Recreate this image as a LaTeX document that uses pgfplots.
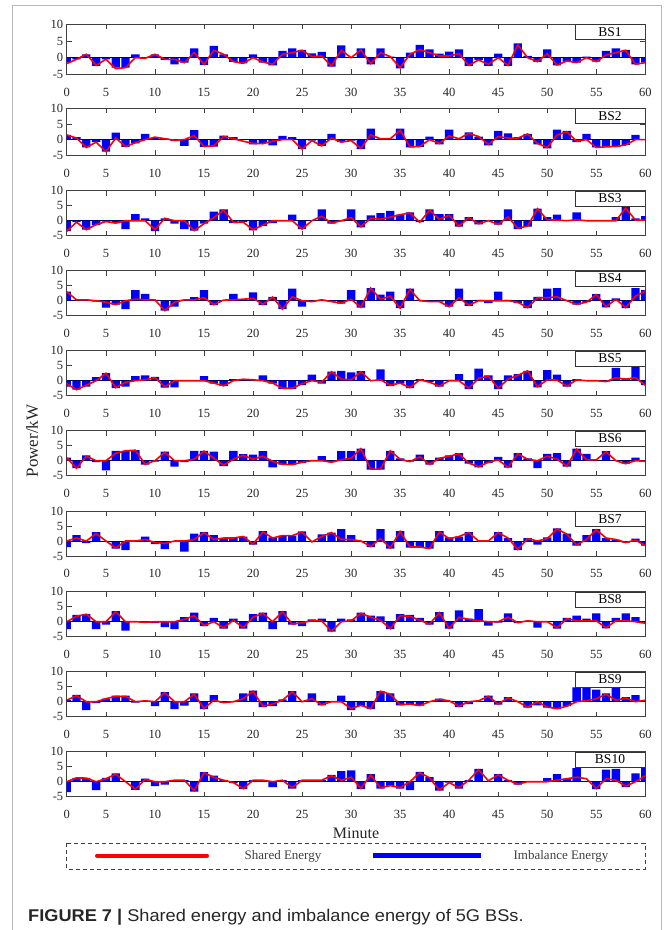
\documentclass[border=0pt]{standalone}
\usepackage{fontspec}
\setmainfont{Liberation Serif}
\newfontfamily\capfont{Liberation Sans}
\usepackage{pgfplots}
\pgfplotsset{compat=1.18}
\usepackage{pgfplotstable}

\pgfplotstableread{
x b s
1 -1.5 -1.8
2 -0.5 -0.5
3 1 1
4 -2.5 -2.3
5 -0.5 -0.5
6 -3 -3.3
7 -3 -3
8 1 0
9 0 -0.2
10 1 1
11 -0.7 -0.5
12 -2 -0.5
13 -1.5 -1.5
14 2.8 1.5
15 -2.2 -2
16 3.5 2.2
17 1 1
18 -1.3 -1.2
19 -1.7 -1.7
20 1 0
21 -1.5 -1.3
22 -2.3 -2
23 2 1
24 2.8 1.5
25 2.3 2.2
26 1.3 0.3
27 1.7 0.5
28 -2.7 -2.5
29 3.7 2.2
30 0 0
31 2.8 2.3
32 -2 -1.8
33 2.8 1.5
34 0.3 0.3
35 -3.2 -3
36 1.5 1
37 3.8 2.4
38 2.5 1.5
39 1.2 0.5
40 1.8 0.5
41 2.5 1.2
42 -2.5 -2.3
43 -0.7 -0.7
44 -2.5 -2
45 1.2 0
46 -2.5 -2.3
47 4.3 3.8
48 0.5 0
49 -1.3 -1.2
50 2.5 1.2
51 -2.3 -2.2
52 -1.2 -1
53 -1.5 -1.5
54 0.3 0
55 -1.2 -1.2
56 2 0.8
57 2.8 1.5
58 2.3 2.2
59 -2 -2
60 -1.5 -1.5
}\bsA

\pgfplotstableread{
x b s
1 1.5 1.5
2 0.8 0.5
3 -2.5 -2.5
4 -0.8 -0.8
5 -3.8 -3.8
6 2.2 0.5
7 -2.3 -2.2
8 -1.2 -1
9 1.8 0
10 0.5 0.8
11 0.3 0.3
12 -0.5 -0.2
13 -2 0
14 3 1.3
15 -2.3 -2.2
16 -2.2 -2
17 1.3 1
18 0.8 0.3
19 0 -0.5
20 -1.5 -1.2
21 -1 -1.3
22 -1.8 -0.5
23 1.2 0
24 0.8 0
25 -3 -3
26 -0.3 -0.3
27 -2 -2
28 1.8 0.5
29 -0.8 -0.8
30 -0.3 -0.3
31 -3 -2.8
32 3.5 1.5
33 0.3 0.3
34 0.3 0.3
35 3.5 3
36 -2.5 -2.3
37 -2.3 -2.2
38 1 0
39 -1.5 -1.2
40 3.2 1.2
41 0.3 0.3
42 2.3 2
43 1 1
44 -1.8 -1.5
45 2.8 1
46 2 0.5
47 0.8 0.5
48 1.8 1.8
49 -1.5 -1.2
50 -2.8 -2.5
51 3.2 1.5
52 2.8 2.5
53 -0.8 -0.5
54 1.8 0
55 -2.5 -2.5
56 -2.3 -2.3
57 -2.2 -2.2
58 -1.7 -1.7
59 1.5 0
60 0 0
}\bsB

\pgfplotstableread{
x b s
1 -3.5 -3.5
2 -0.5 -0.5
3 -3 -3
4 -1.5 -1.3
5 -0.3 -0.3
6 -0.8 -0.8
7 -2.8 0
8 2.2 0
9 0.8 0
10 -3.5 -3
11 0.8 0.8
12 -1 0
13 -2.8 0
14 -3.3 -3.3
15 -1 -1
16 3 1
17 3.8 3.5
18 -0.8 -0.5
19 -0.5 -0.5
20 -3.2 -3
21 -1.7 -1.5
22 -0.8 0
23 0 0
24 2 0
25 -2.8 -2.8
26 0.2 0
27 3.8 1.5
28 -1 -0.8
29 -0.2 0
30 3.8 1
31 -2.2 -2
32 1.8 0.8
33 2.5 0.5
34 3.3 1.2
35 2 2
36 2.8 2.6
37 -0.5 -0.5
38 3.8 3.5
39 2.2 0.5
40 2.2 1.8
41 -2 -1.8
42 1.2 1
43 -1.2 -1
44 0.2 0
45 -1.3 -1.2
46 3.8 1.2
47 -2.8 -2.5
48 -2 -1.8
49 4 4
50 1.2 0.3
51 2 0.2
52 0.2 0
53 2.8 0.3
54 0 0
55 0 0
56 0 0
57 1.2 0
58 4.5 4.2
59 0.8 0.2
60 1.5 0.2
}\bsC

\pgfplotstableread{
x b s
1 3 3
2 0.3 0.3
3 0.3 0.3
4 -0.3 0
5 -2.3 -0.5
6 -1.3 -1.3
7 -2.8 0
8 3.5 0.5
9 2.3 0.3
10 0.3 0.3
11 -3.3 -3.3
12 -2 -0.5
13 0.3 0.3
14 1.2 0.3
15 3.5 1
16 -1.5 -1.3
17 0.2 0.2
18 2.3 0.3
19 0.5 0.5
20 2.8 0.8
21 -1.5 -1.2
22 1.3 1.2
23 -2.8 -2.8
24 4 1.3
25 -2 0
26 -0.3 -0.3
27 0.3 0.3
28 -0.3 -0.3
29 -1 -0.8
30 3.5 0.5
31 -2.3 -2.2
32 4.2 4.2
33 2 0.5
34 3 1.5
35 -2.5 -2.5
36 4 3.8
37 0.3 0
38 -0.3 -0.3
39 -0.3 -0.3
40 -2 -2
41 4 1
42 -1.7 -1.5
43 0.3 0
44 -0.8 0
45 3 0
46 0.3 0
47 -0.8 -0.5
48 -2.5 -2.3
49 1.3 1
50 4 1
51 4.2 1.3
52 0.3 0
53 -1.3 -1.2
54 -0.5 -0.5
55 2.2 2
56 -2.2 -2
57 0.8 0.5
58 -2.5 -2.3
59 4.2 1.5
60 3.5 3.2
}\bsD

\pgfplotstableread{
x b s
1 -2 -1
2 -3 -3
3 -2 -1.5
4 1.2 0
5 2.5 2.5
6 -2.5 -2.3
7 -2 -0.5
8 1.5 0
9 1.8 0.3
10 1.3 1
11 -2.3 -2
12 -2.2 0
13 0 0
14 0 0
15 1.5 0
16 -1 -0.8
17 -1.7 -1.7
18 0.5 0
19 0.5 0.5
20 0.3 0.3
21 1.8 0
22 -1 -0.8
23 -2.8 -2.5
24 -2.8 -2.5
25 -1.5 -1
26 2 0
27 -1 -0.5
28 3 3
29 3.3 0.5
30 2.8 0.3
31 3.2 3
32 0 0
33 3.8 0.3
34 -1.8 -1.5
35 -1 -0.8
36 -2.5 -2.3
37 0.5 0.3
38 -0.5 -0.5
39 -2 -1.8
40 0.3 0
41 2.2 0
42 -2.8 -2.5
43 4 0.8
44 1.8 1.5
45 -2.8 -2.5
46 1.8 0.5
47 2.2 1.8
48 3.3 3.3
49 -2.2 -2
50 3.5 0.3
51 2 0.2
52 -2 -1.8
53 0.5 0.3
54 0 0
55 0 0
56 -0.3 -0.3
57 4.3 1
58 0.8 0.5
59 4.5 1
60 -1.5 -1.5
}\bsE

\pgfplotstableread{
x b s
1 1 1
2 -2.5 -2.5
3 1.8 1.5
4 -0.5 0
5 -3.2 0
6 3.3 2.5
7 3.3 3.3
8 3.5 3.5
9 -1.3 -1.2
10 -0.3 0
11 3 2.8
12 -2 0
13 -0.5 0
14 3.3 0.5
15 3.3 3.2
16 3 0.8
17 -1.8 -1.5
18 3.3 0.5
19 2.2 1.8
20 2 0.5
21 3.2 1.5
22 -2.2 -0.2
23 -1.3 -1.2
24 -1.3 -1.3
25 -0.8 -0.5
26 0 0
27 1.5 0
28 -0.5 -0.5
29 3.2 0.3
30 3.2 0.8
31 4 4
32 -3 -2.8
33 -3 -2.8
34 3.3 3.3
35 0.8 0.5
36 -0.3 -0.3
37 2 1.3
38 -1.3 -1.2
39 1 0.8
40 1.8 1.5
41 2.5 2.3
42 -1 -0.8
43 -2.2 -2
44 -0.8 -0.5
45 1.3 0.3
46 -2.3 -2.2
47 2.5 2.3
48 0.8 0.5
49 -2.5 0
50 2.3 1.5
51 2.5 0.5
52 -2 -1.8
53 4 3.8
54 2.3 0.3
55 0 0.3
56 3.2 3
57 0 0
58 -1 -1
59 1 0
60 -0.2 -0.2
}\bsF

\pgfplotstableread{
x b s
1 -2 0
2 2 1
3 -0.7 0
4 3 2.5
5 -0.3 0
6 -2.5 -2.3
7 -3 0
8 0 0
9 1.5 0.5
10 -1 -0.5
11 -2.7 -0.8
12 0 0
13 -3.5 0
14 2.5 0.5
15 3 2.8
16 2 0.5
17 1 1
18 1 1
19 1.5 1.5
20 -1.2 -1
21 3.3 3
22 1.2 1
23 1.8 1.8
24 1.8 1.8
25 3.2 3
26 -0.3 -0.3
27 2.2 1.5
28 2.8 2.8
29 4 0.5
30 2 0.5
31 0 0
32 -2 -1.8
33 4 0.8
34 -2.5 -2.3
35 3.3 3.2
36 -2.2 -2
37 -2.2 -2
38 -2.5 -2.5
39 3.3 3
40 1.2 0.8
41 1.5 1.5
42 3 2.8
43 0 0
44 0 0
45 3 2.8
46 1 1
47 -3 -2.8
48 1 0.8
49 -1.2 0
50 1.2 0.8
51 4.2 4
52 2.5 2.3
53 -1.5 -1.3
54 2 0.5
55 4 3.8
56 1 1
57 0.5 0.5
58 -0.5 -0.5
59 0.8 0.3
60 -1.5 -1.5
}\bsG

\pgfplotstableread{
x b s
1 -2.5 0
2 2.3 1.8
3 2.5 2.5
4 -2.5 0
5 -1 0
6 3.5 3.3
7 -3 0
8 0 0
9 0 -0.2
10 -0.5 0
11 -1.8 0
12 -2.5 0
13 1.5 0.8
14 3 2
15 -1.5 -1.3
16 1.3 0
17 -2.3 -2
18 1 0.5
19 -2.3 -2
20 2.5 1.5
21 3 2.8
22 -2.5 0
23 3.5 3.3
24 -1 -0.8
25 -1.5 -0.3
26 0.8 0.3
27 1 0.3
28 -3.3 -3.2
29 1 0
30 0.8 0.3
31 3 2.8
32 2 1.5
33 1.8 0.5
34 -2.5 -2.3
35 2.5 2
36 2.3 1.8
37 1.3 0.5
38 -1 -0.8
39 3.2 3
40 -2.3 -2.2
41 3.8 1.5
42 1 0.8
43 4.2 0.3
44 -1.3 0
45 -0.3 0
46 2.8 1.5
47 -0.5 -0.3
48 0.3 0.3
49 -2 0
50 0 0
51 -2.3 -2
52 1.3 1
53 2 0.3
54 1 0.3
55 2.8 0.3
56 -2.2 -2
57 1.3 0.3
58 2.8 0.3
59 1.5 0
60 -0.5 -0.5
}\bsH

\pgfplotstableread{
x b s
1 0.5 0.5
2 2.3 2
3 -2.8 0
4 -0.5 0
5 1 1
6 2 1.8
7 2 1.8
8 -0.3 0
9 0.3 0.3
10 -1.5 0
11 3.2 3
12 -2.5 0
13 -1.3 0
14 2.8 2.5
15 -2.5 -2.3
16 2.2 0.5
17 -0.3 -0.3
18 0 0
19 2.8 1
20 3.7 3.5
21 -1.8 -1.5
22 -1.5 -0.8
23 0.8 0.5
24 3.5 3.3
25 0 0
26 2.8 1
27 -1.2 -1
28 0 0
29 2 0
30 -2.8 -2.3
31 -1.5 -1.2
32 -2.5 -2.3
33 3.5 3.5
34 2.8 2.5
35 -1.2 -1
36 -0.8 -0.8
37 -1.3 -1.3
38 0.2 0
39 1 0.8
40 0.3 0.3
41 -1.8 -1.5
42 -0.8 0
43 0.3 0.3
44 2 1.8
45 -1 -0.8
46 1.5 1.3
47 0 0
48 -2 -1.8
49 -1.2 0
50 -2 -1.8
51 -2.5 -2.3
52 -1.5 -1.5
53 4.8 0
54 4.8 0.3
55 4 1
56 2.8 2.5
57 4.5 0.5
58 1.5 1.2
59 2.2 0
60 0.5 0.5
}\bsI

\pgfplotstableread{
x b s
1 -3.5 0
2 1.3 1.3
3 1.3 1.2
4 -2.8 0
5 1.3 1
6 2.8 2.5
7 0 0
8 -2.7 -2.5
9 1 0.8
10 -1.5 0
11 -1 0
12 0.5 0.5
13 0.5 0.5
14 -3.3 -3
15 3.2 3
16 2 1.5
17 0.5 0.5
18 -0.5 -0.3
19 -2.5 -2.3
20 0.5 0.5
21 0.5 0.5
22 -1.8 0
23 0.5 0.5
24 -2.3 -2
25 0.5 0.5
26 0.5 0.5
27 0.5 0.5
28 2.3 2
29 3.5 0.5
30 3.8 1.5
31 -2.5 -2.2
32 2.5 2.2
33 -2.3 -2
34 -1.5 -1.3
35 -2.3 -2
36 -2.8 0
37 3.3 3
38 1.5 1.3
39 -3 -2.8
40 -0.3 -0.3
41 -2.3 -2
42 0.5 0.5
43 4.3 4
44 0.3 0.3
45 2.5 2.3
46 0.5 0.5
47 -1 -0.8
48 0 0
49 0 0
50 1.2 0
51 2.5 0.5
52 1 1
53 4.5 1.5
54 0 1
55 -2.5 -2.3
56 4 1
57 4.3 0.5
58 -1.8 -1.5
59 2.8 0
60 5 2
}\bsJ

\pgfplotsset{
  bsstyle/.style={
    anchor=north west,
    width=578.6pt, scale only axis,
    xmin=1, xmax=60, ymin=-5, ymax=10,
    xtick={1,5,10,15,20,25,30,35,40,45,50,55,60},
    xticklabels={0,5,10,15,20,25,30,35,40,45,50,55,60},
    ytick={-5,0,5,10},
    tick align=inside, major tick length=5pt,
    axis line style={black!75, line width=0.7pt},
    every tick/.style={black!75, line width=0.6pt},
    tick label style={font=\fontsize{12.5}{13}\selectfont, text=black!85},
    /pgf/number format/assume math mode=true,
    xticklabel style={yshift=-10pt},
  }
}

\newcommand{\bsaxis}[4]{%
\begin{axis}[bsstyle, at={(66.7pt,-#1pt)}, height=#2pt]
\addplot[ybar, bar width=0.85, fill=blue, draw=none] table[x=x,y=b]{#3};
\addplot[blue!45!black, line width=0.5pt] coordinates {(1,0) (60,0)};
\addplot[red, line width=1.6pt] table[x=x,y=s]{#3};
\node[draw=black!80, fill=white, line width=0.6pt, anchor=north east,
      minimum width=70pt, minimum height=15pt, inner sep=0pt,
      font=\fontsize{13.5}{14}\selectfont] at (rel axis cs:1,1) {#4};
\end{axis}}

\begin{document}
\begin{tikzpicture}
\useasboundingbox (0,0) rectangle (665pt,-930pt);
\fill[white] (0,0) rectangle (665pt,-930pt);
\draw[black!28, line width=1.3pt] (12.7pt,-931pt) -- (12.7pt,-5.3pt) -- (661.7pt,-5.3pt) -- (661.7pt,-931pt);

\bsaxis{24.3}{50}{\bsA}{BS1}
\bsaxis{108.3}{47}{\bsB}{BS2}
\bsaxis{190.7}{45}{\bsC}{BS3}
\bsaxis{270.7}{45}{\bsD}{BS4}
\bsaxis{350.7}{45}{\bsE}{BS5}
\bsaxis{430.7}{45}{\bsF}{BS6}
\bsaxis{511}{45}{\bsG}{BS7}
\bsaxis{591.7}{45}{\bsH}{BS8}
\bsaxis{671.7}{45}{\bsI}{BS9}
\bsaxis{751.7}{45}{\bsJ}{BS10}

\node[rotate=90, font=\fontsize{17}{18}\selectfont, text=black!85] at (32pt,-441pt) {Power/kW};
\node[font=\fontsize{16}{18}\selectfont, text=black!85] at (356pt,-833pt) {Minute};

\draw[black!75, line width=0.7pt, dash pattern=on 4pt off 3pt] (66.7pt,-843pt) rectangle (645pt,-869pt);
\draw[red, line width=4pt, line cap=round] (97pt,-855.5pt) -- (207pt,-855.5pt);
\node[font=\fontsize{13}{14}\selectfont, text=black!75] at (283pt,-856pt) {Shared Energy};
\draw[blue, line width=4.5pt] (373pt,-855.5pt) -- (481pt,-855.5pt);
\node[font=\fontsize{13}{14}\selectfont, text=black!75] at (561pt,-856pt) {Imbalance Energy};

\node[anchor=base west, inner sep=0pt, text=black!85] at (28pt,-921.7pt) {\scalebox{1.07}[1]{\capfont\fontsize{17}{20}\selectfont\textbf{FIGURE 7 |} Shared energy and imbalance energy of 5G BSs.}};
\end{tikzpicture}
\end{document}
